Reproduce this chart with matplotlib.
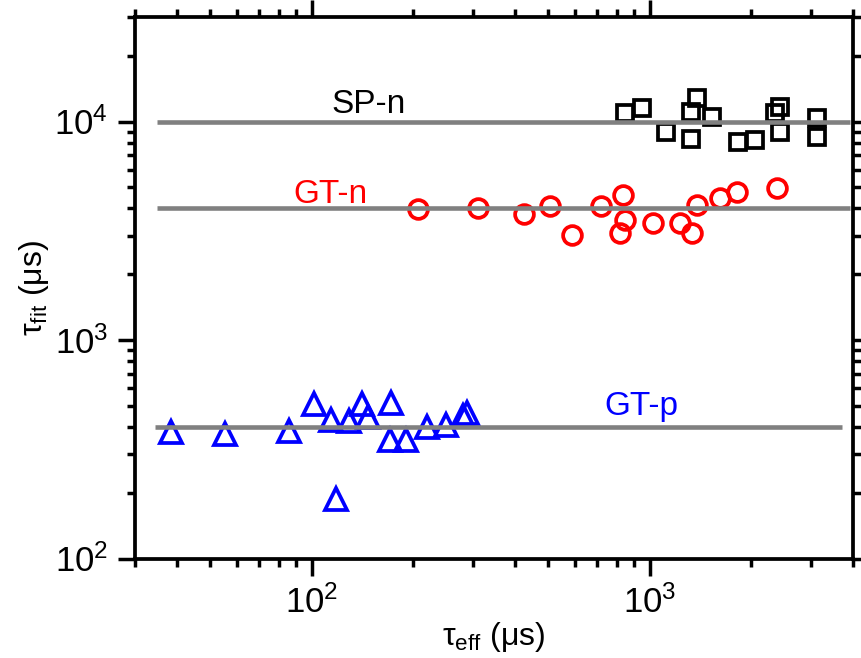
import numpy as np
import matplotlib
matplotlib.use('Agg')
import matplotlib.pyplot as plt
from matplotlib.ticker import LogLocator, NullFormatter

plt.rcParams['font.family'] = ['Liberation Sans', 'DejaVu Sans']
plt.rcParams['mathtext.fontset'] = 'custom'
plt.rcParams['mathtext.rm'] = 'Liberation Sans'
plt.rcParams['mathtext.it'] = 'Liberation Sans'
plt.rcParams['mathtext.bf'] = 'Liberation Sans'
plt.rcParams['mathtext.default'] = 'regular'

# SP-n (black squares)
sp_x = [848, 950, 1121, 1381, 1328, 1529, 1326, 1833, 2053, 2353, 2435, 2435, 3125, 3125]
sp_y = [10940, 11560, 8970, 12760, 11090, 10520, 8290, 8030, 8225, 10900, 11610, 8970, 10340, 8470]

# GT-n (red circles)
gtn_x = [206, 310, 426, 509, 590, 720, 834, 848, 815, 1023, 1232, 1334, 1384, 1618, 1813, 2385]
gtn_y = [3977, 4010, 3758, 4100, 3013, 4120, 4610, 3540, 3077, 3443, 3443, 3077, 4150, 4453, 4772, 4944]

# GT-p (blue triangles)
gtp_x = [38.3, 55.4, 85.7, 101.4, 113.8, 128.7, 141.2, 146.7, 171.2, 170.4, 189.6, 219.8, 249.5, 287.3, 281.4, 117.7]
gtp_y = [378, 371, 383, 511, 432, 428, 511, 443, 513, 350, 348, 398, 410, 463, 449, 188]

# fitted constant levels
levels = {'SP-n': 1.0e4, 'GT-n': 4.0e3, 'GT-p': 4.0e2}
level_x = {'SP-n': (34.8, 3917), 'GT-n': (34.8, 3917), 'GT-p': (34.3, 3705)}
label_pos = {'SP-n': (147.4, 10940), 'GT-n': (113.8, 4237), 'GT-p': (948, 454)}
label_col = {'SP-n': 'black', 'GT-n': '#ff0000', 'GT-p': '#0000ff'}

fig = plt.figure(figsize=(8.61, 6.58), dpi=100)
ax = fig.add_axes([0.1568, 0.1512, 0.8339, 0.8225])

ax.plot(sp_x, sp_y, 's', ms=11.5, mfc='none', mec='black', mew=2.7, zorder=2)
ax.plot(gtn_x, gtn_y, 'o', ms=13.5, mfc='none', mec='#ff0000', mew=2.7, zorder=2)
ax.plot(gtp_x, gtp_y, '^', ms=15.5, mfc='none', mec='#0000ff', mew=2.7, zorder=2)

for k, v in levels.items():
    ax.plot(level_x[k], [v, v], color='#808080', lw=3.3, zorder=3, solid_capstyle='butt')
    ax.text(label_pos[k][0], label_pos[k][1], k, color=label_col[k], fontsize=24,
            ha='center', va='baseline')

ax.set_xscale('log')
ax.set_yscale('log')
ax.set_xlim(30, 4000)
ax.set_ylim(100, 3e4)

for a in (ax.xaxis, ax.yaxis):
    a.set_major_locator(LogLocator(base=10, numticks=10))
    a.set_minor_locator(LogLocator(base=10, subs=np.arange(2, 10), numticks=20))
    a.set_minor_formatter(NullFormatter())

ax.tick_params(which='both', direction='out', top=True, right=True, width=2.5,
               labelsize=25)
ax.tick_params(which='major', length=12.5, pad=7)
ax.tick_params(which='minor', length=6)
for s in ax.spines.values():
    s.set_linewidth(2.7)

ax.set_xlabel('$\\mathregular{τ_{eff}}$ (μs)', fontsize=23, labelpad=0)
ax.set_ylabel('$\\mathregular{τ_{fit}}$ (μs)', fontsize=23, labelpad=2)

fig.savefig('out.png', dpi=100)
